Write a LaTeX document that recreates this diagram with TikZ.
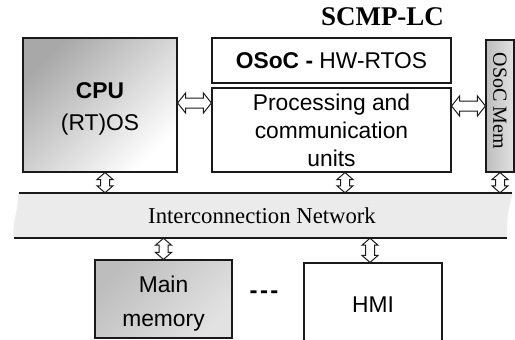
\documentclass[tikz,border=0pt]{standalone}
\usepackage{fontspec}
\setmainfont{Liberation Serif}
\setsansfont{Liberation Sans}
\usetikzlibrary{calc,backgrounds}

\definecolor{edge}{HTML}{1A1A1A}
\definecolor{cpudark}{HTML}{A8A8A8}
\definecolor{memdark}{HTML}{BDBDBD}
\definecolor{memlight}{HTML}{E2E2E2}
\definecolor{busfill}{HTML}{EBEBEB}

\tikzset{
  unitbox/.style={draw=edge, line width=1.1pt, inner sep=0pt, align=center,
    font=\sffamily\fontsize{22.8}{28}\selectfont},
  % hollow double-headed block arrow: head length / head half-width / body half-width
  blockarrow/.style n args={3}{draw=edge, fill=white, line width=1pt, line join=miter,
    to path={
      -- ($(\tikztostart)!#1!(\tikztotarget)!#2!90:(\tikztotarget)$)
      -- ($(\tikztostart)!#1!(\tikztotarget)!#3!90:(\tikztotarget)$)
      -- ($(\tikztotarget)!#1!(\tikztostart)!#3!-90:(\tikztostart)$)
      -- ($(\tikztotarget)!#1!(\tikztostart)!#2!-90:(\tikztostart)$)
      -- (\tikztotarget)
      -- ($(\tikztotarget)!#1!(\tikztostart)!#2!90:(\tikztostart)$)
      -- ($(\tikztotarget)!#1!(\tikztostart)!#3!90:(\tikztostart)$)
      -- ($(\tikztostart)!#1!(\tikztotarget)!#3!-90:(\tikztotarget)$)
      -- ($(\tikztostart)!#1!(\tikztotarget)!#2!-90:(\tikztotarget)$)
      -- cycle}},
  harrow/.style={blockarrow={8pt}{10pt}{5pt}},
  varrow/.style={blockarrow={7pt}{8pt}{4.5pt}},
}

\begin{document}
\begin{tikzpicture}[x=1pt,y=-1pt]
\useasboundingbox (0,0) rectangle (515,340);

% title
\node[font=\bfseries\fontsize{27}{30}\selectfont] (title) at (382.5,16.5) {SCMP-LC};

% processor side
\node[unitbox, minimum width=154pt, minimum height=134pt,
      top color=cpudark, bottom color=white, shading angle=45,
      font=\sffamily\fontsize{22.8}{32}\selectfont] (cpu) at (100,105)
      {\raisebox{-3pt}[\height][\depth]{\begin{tabular}{@{}c@{}}\textbf{CPU}\\(RT)OS\end{tabular}}};
\node[unitbox, fill=white, minimum width=239pt, minimum height=45pt] (osoc) at (331.5,60.5)
      {\textbf{OSoC -} HW-RTOS};
\node[unitbox, fill=white, minimum width=239pt, minimum height=84pt] (proc) at (331.5,130)
      {Processing and\\communication\\units};
\node[unitbox, minimum width=28pt, minimum height=132pt,
      left color=memdark, right color=memlight,
      font=\fontsize{20}{24}\selectfont] (mem) at (500,106)
      {\raisebox{5pt}[\height][\depth]{\rotatebox{-90}{OSoC Mem}}};

% interconnection network
\node[inner sep=0pt, minimum width=496pt, minimum height=45pt,
      font=\fontsize{22.7}{26}\selectfont] (bus) at (262,215.5) {Interconnection Network};
\begin{scope}[on background layer]
  \fill[busfill] (18,193) -- (513,193)
    .. controls (509,205) and (506,222) .. (507,238)
    -- (14,238) .. controls (11,226) and (19,208) .. (18,193) -- cycle;
\end{scope}
\draw[edge, line width=1.3pt] (19,193) -- (512,193);
\draw[edge, line width=1.3pt] (14,238) -- (507,238);

% memory side
\node[unitbox, minimum width=137pt, minimum height=78pt,
      top color=memdark, bottom color=memlight, shading angle=45,
      font=\sffamily\fontsize{22.8}{34}\selectfont] (mm) at (163.5,299)
      {\raisebox{-4pt}[\height][\depth]{\begin{tabular}{@{}c@{}}Main\\memory\end{tabular}}};
\node[unitbox, fill=white, minimum width=138pt, minimum height=84pt] (hmi) at (373,305) {HMI};
\node[font=\sffamily\bfseries\fontsize{24}{28}\selectfont] (dots) at (264,295)
      {-\kern2.5pt-\kern2.5pt-};

% connector end points
\coordinate (h1s) at ([yshift=2pt]cpu.east);
\coordinate (h1t) at (h1s -| proc.west);
\coordinate (h2s) at (mem.west -| proc.east);
\coordinate (h2t) at (mem.west);
\coordinate (v1s) at ([xshift=5pt]cpu.south);
\coordinate (v1t) at (v1s |- bus.north);
\coordinate (v2s) at ([xshift=13.5pt]proc.south);
\coordinate (v2t) at (v2s |- bus.north);
\coordinate (v3s) at (mem.south);
\coordinate (v3t) at (mem.south |- bus.north);
\coordinate (v4s) at (bus.south -| mm.north);
\coordinate (v4t) at (mm.north);
\coordinate (v5t) at ([xshift=-3pt]hmi.north);
\coordinate (v5s) at (v5t |- bus.south);

% connectors
\draw[harrow] (h1s) to (h1t);
\draw[harrow] (h2s) to (h2t);
\draw[varrow] (v1s) to (v1t);
\draw[varrow] (v2s) to (v2t);
\draw[varrow] (v3s) to (v3t);
\draw[varrow] (v4s) to (v4t);
\draw[varrow] (v5s) to (v5t);
\end{tikzpicture}
\end{document}
